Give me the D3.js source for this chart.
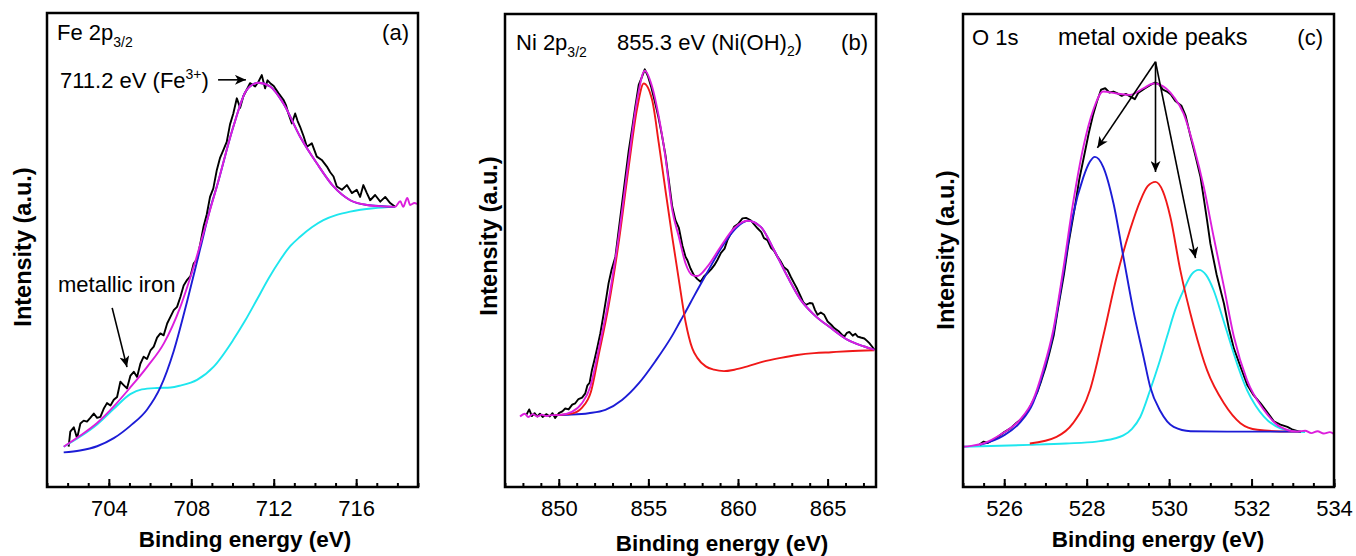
<!DOCTYPE html>
<html>
<head>
<meta charset="utf-8">
<script src="https://d3js.org/d3.v7.min.js"></script>
<style>
  body { margin: 0; background: #fff; }
  svg { display: block; font-family: Arial, "Liberation Sans", sans-serif; }
  .tick text { font-size: 22px; fill: #000; }
  .tick line { stroke: #000; stroke-width: 2; }
  .axis-title { font-size: 22.5px; font-weight: bold; fill: #000; }
  .y-title { font-size: 23.5px; }
  .title { font-size: 22px; fill: #000; }
  .note { font-size: 22px; fill: #000; }
  .curve { fill: none; stroke-width: 1.9; stroke-linejoin: round; }
</style>
</head>
<body>
<script>
// ---------- (a) Fe 2p3/2 : [binding energy eV, intensity a.u.] ----------
var feRaw = [[702.05,8.5],[702.13,11.7],[702.3,12.6],[702.46,10.3],[702.62,13.4],[702.78,14.0],[702.94,13.8],[703.1,14.6],
  [703.27,15.5],[703.43,14.6],[703.59,14.8],[703.75,16.5],[703.91,17.7],[704.08,17.2],[704.24,18.4],[704.4,19.0],
  [704.56,22.2],[704.72,21.5],[704.88,20.8],[705.05,23.5],[705.21,24.3],[705.37,23.2],[705.53,26.0],[705.69,27.5],
  [705.85,27.0],[706.02,28.8],[706.18,29.6],[706.34,31.5],[706.5,32.4],[706.66,32.0],[706.83,34.5],[707.0,36.0],
  [707.15,37.3],[707.31,38.0],[707.47,40.1],[707.63,42.5],[707.8,43.7],[707.96,44.5],[708.12,47.2],[708.28,48.0],
  [708.44,51.4],[708.6,55.0],[708.75,57.5],[708.91,61.2],[709.07,63.0],[709.24,66.9],[709.4,69.5],[709.56,71.1],
  [709.72,72.8],[709.88,76.5],[710.04,78.8],[710.21,82.0],[710.37,80.0],[710.53,82.5],[710.69,83.8],[710.85,85.2],
  [711.1,84.5],[711.26,85.5],[711.42,86.9],[711.58,84.1],[711.7,85.8],[711.83,85.2],[712.0,84.6],[712.23,83.1],
  [712.47,81.7],[712.6,80.5],[712.71,78.8],[712.88,76.7],[713.04,78.8],[713.16,77.2],[713.28,76.0],[713.45,74.0],
  [713.61,71.8],[713.85,72.5],[714.09,69.7],[714.33,69.0],[714.58,67.6],[714.74,66.4],[714.9,65.5],[715.06,63.4],
  [715.31,62.7],[715.55,63.7],[715.79,62.0],[716.03,62.7],[716.19,61.2],[716.35,63.7],[716.52,62.0],[716.68,60.5],
  [716.92,61.6],[717.17,60.2],[717.41,61.2],[717.65,59.9],[717.89,59.1]];
var feFit = [[701.81,8.5],[702.6,10.8],[703.43,13.5],[704.24,17.0],[705.04,21.0],[705.85,25.3],[706.67,30.3],
  [707.47,38.0],[708.12,46.5],[708.77,56.3],[709.24,63.4],[710.04,76.0],[710.69,83.8],[711.26,85.3],[711.83,84.5],
  [712.47,80.9],[713.28,73.9],[714.09,68.3],[714.9,63.4],[715.71,60.5],[716.52,59.5],[717.2,59.2],[717.89,59.1],
  [718.14,60.3],[718.28,59.1],[718.48,61.0],[718.62,59.5],[718.82,59.9],[718.96,59.7]];
var feOxide = [[701.81,7.3],[702.6,7.7],[703.43,8.6],[704.24,10.3],[705.04,12.9],[705.85,16.3],[706.5,21.0],
  [707.15,28.7],[707.8,39.2],[708.44,50.4],[708.93,58.9],[709.24,63.4],[710.04,76.0],[710.69,83.8],[711.26,85.3],
  [711.83,84.5],[712.47,80.9],[713.28,73.9],[714.09,68.3],[714.9,63.4],[715.71,60.5],[716.52,59.5],[717.89,59.1]];
var feBackground = [[701.81,8.5],[702.6,10.6],[703.43,13.2],[704.24,16.5],[705.04,19.6],[705.6,20.6],[706.34,20.9],
  [707.0,21.0],[707.47,21.4],[708.28,22.6],[709.09,25.4],[710.03,31.0],[710.6,35.0],[711.18,39.5],[711.75,44.0],
  [712.31,47.9],[712.8,50.8],[713.28,52.8],[713.85,54.8],[714.41,56.3],[715.06,57.4],[715.71,58.1],[716.84,58.8],
  [717.89,59.1]];
var feTicks = [704, 708, 712, 716];

// ---------- (b) Ni 2p3/2 ----------
var niRaw = [[848.2,15.3],[848.35,16.4],[848.5,15.0],[848.65,15.6],[848.8,14.9],[848.95,15.5],[849.1,14.8],[849.3,15.4],
  [849.5,14.9],[849.65,15.6],[849.8,14.6],[850.0,15.6],[850.2,16.0],[850.36,16.6],[850.55,16.4],[850.75,17.4],
  [850.92,17.7],[851.1,18.6],[851.3,18.9],[851.48,19.8],[851.6,21.5],[851.72,22.0],[851.85,24.7],[852.0,27.0],
  [852.15,29.5],[852.32,32.5],[852.5,36.5],[852.65,40.0],[852.78,43.1],[852.95,46.0],[853.16,48.7],[853.3,53.0],
  [853.5,59.0],[853.72,65.6],[853.9,71.0],[854.1,76.0],[854.27,80.4],[854.46,85.0],[854.62,86.5],[854.8,88.3],
  [854.98,86.8],[855.17,84.4],[855.36,81.5],[855.56,78.2],[855.75,74.5],[855.95,70.2],[856.15,64.5],[856.33,59.3],
  [856.51,56.4],[856.7,54.8],[856.9,51.0],[857.07,48.7],[857.17,48.0],[857.35,46.2],[857.54,44.8],[857.72,44.0],
  [857.91,43.4],[858.1,44.5],[858.29,45.2],[858.5,46.0],[858.68,46.9],[858.85,48.0],[859.05,49.5],[859.25,50.4],
  [859.41,52.2],[859.6,53.6],[859.78,55.0],[860.0,55.6],[860.25,56.8],[860.45,56.9],[860.71,56.4],[860.9,55.5],
  [861.09,54.7],[861.3,53.9],[861.45,52.6],[861.64,52.2],[861.85,50.5],[862.0,50.0],[862.2,48.7],[862.4,47.6],
  [862.55,46.5],[862.76,45.9],[862.95,44.4],[863.13,43.1],[863.3,41.9],[863.51,40.2],[863.65,39.0],[863.79,38.5],
  [864.0,38.9],[864.16,38.8],[864.3,37.4],[864.44,36.4],[864.62,36.9],[864.81,36.4],[865.0,35.0],[865.2,34.3],
  [865.37,33.6],[865.6,33.0],[865.8,32.2],[865.93,31.8],[866.08,32.6],[866.21,32.8],[866.4,32.0],[866.55,32.4],
  [866.68,31.8],[866.85,31.6],[867.05,31.4],[867.2,30.9],[867.33,30.4],[867.5,29.6],[867.61,29.0]];
var niFit = [[847.84,14.9],[848.1,15.5],[848.3,14.8],[848.55,15.4],[848.8,14.9],[849.05,15.3],[849.3,15.0],[849.6,15.2],
  [849.98,15.2],[850.73,15.9],[851.29,17.7],[851.76,21.2],[852.22,29.0],[852.78,39.5],[853.34,52.9],[853.9,69.1],
  [854.37,81.8],[854.8,88.0],[855.21,84.6],[855.58,78.3],[855.95,69.8],[856.33,58.6],[856.7,52.9],[857.07,47.3],
  [857.45,44.8],[857.73,44.6],[858.29,46.6],[859.03,50.8],[859.78,54.7],[860.53,56.3],[861.27,55.0],[862.01,50.1],
  [862.76,44.5],[863.51,39.5],[864.25,36.4],[865.19,33.6],[866.12,31.1],[867.05,29.7],[867.61,29.0]];
var niMain = [[849.8,15.2],[850.7,15.5],[851.3,16.8],[851.8,20.2],[852.22,27.8],[852.78,38.3],[853.34,51.6],
  [853.9,67.6],[854.37,80.0],[854.74,85.3],[855.21,81.8],[855.58,72.7],[855.95,62.8],[856.33,52.9],[856.7,43.8],
  [857.07,35.0],[857.45,29.3],[857.73,27.3],[858.2,25.5],[858.66,24.8],[859.22,24.5],[859.8,24.8],[860.53,25.5],
  [861.4,26.5],[862.39,27.3],[863.3,27.9],[864.25,28.3],[865.2,28.5],[866.12,28.7],[867.61,28.9]];
var niSatellite = [[849.8,15.2],[850.7,15.3],[851.66,15.6],[852.6,16.3],[853.53,18.4],[854.46,21.9],[855.39,26.6],
  [856.33,32.0],[856.8,35.2],[857.07,37.0],[857.54,40.3],[858.29,45.4],[859.03,50.3],[859.59,53.4],[860.15,55.6],
  [860.53,56.3],[861.27,55.0],[862.01,50.1],[862.76,44.5],[863.51,39.5],[864.25,36.4],[865.19,33.6],[866.12,31.1],
  [867.05,29.7],[867.61,29.0]];
var niTicks = [850, 855, 860, 865];

// ---------- (c) O 1s ----------
var oRaw = [[525.4,9.0],[525.5,9.6],[525.6,9.3],[525.8,10.3],[526.0,11.6],[526.15,12.4],[526.3,13.6],[526.45,14.6],
  [526.6,16.5],[526.7,18.2],[526.8,20.0],[526.9,22.5],[527.0,25.2],[527.1,28.5],[527.2,32.0],[527.3,37.5],
  [527.45,45.0],[527.55,51.0],[527.7,58.5],[527.82,65.0],[527.95,70.5],[528.05,74.8],[528.15,78.5],[528.25,81.5],
  [528.35,84.0],[528.45,84.3],[528.55,83.4],[528.65,83.6],[528.75,83.2],[528.85,82.7],[528.95,83.1],[529.05,82.6],
  [529.17,82.0],[529.25,83.3],[529.4,84.2],[529.55,85.0],[529.65,85.5],[529.75,85.2],[529.85,84.0],[529.95,83.6],
  [530.05,82.9],[530.15,81.6],[530.3,80.6],[530.4,78.5],[530.52,74.1],[530.64,70.0],[530.76,65.6],[530.85,60.5],
  [530.92,56.4],[531.0,51.5],[531.15,45.0],[531.33,38.8],[531.45,33.5],[531.57,29.3],[531.75,25.0],[531.9,21.5],
  [532.05,19.4],[532.22,17.7],[532.4,15.6],[532.54,13.9],[532.7,13.2],[532.87,12.7],[533.0,12.1],[533.2,11.6]];
var oFit = [[525.0,8.5],[525.2,8.7],[525.49,9.2],[525.97,11.4],[526.38,14.2],[526.7,18.4],[526.94,24.7],[527.19,33.2],
  [527.43,45.9],[527.67,60.0],[527.92,71.9],[528.16,79.7],[528.4,83.6],[528.73,83.2],[529.05,82.9],[529.38,84.3],
  [529.62,85.3],[529.79,85.0],[530.11,82.5],[530.35,79.0],[530.6,71.9],[530.84,63.5],[531.08,52.9],[531.33,42.3],
  [531.57,31.8],[531.89,22.6],[532.3,16.3],[532.7,12.7],[533.11,11.7],[533.3,11.9],[533.45,11.4],[533.6,11.8],
  [533.75,11.3],[533.9,11.6],[534.0,11.2]];
var oPeak1 = [[525.41,8.9],[525.97,10.8],[526.38,13.6],[526.7,17.8],[526.94,24.0],[527.19,32.5],[527.43,45.0],
  [527.67,57.5],[527.92,65.5],[528.08,68.8],[528.2,69.8],[528.4,67.7],[528.65,60.0],[528.89,48.7],[529.13,37.4],
  [529.38,27.5],[529.54,21.2],[529.79,16.0],[530.11,12.7],[530.52,11.8],[531.73,11.7],[532.95,11.7],[533.2,11.7]];
var oPeak2 = [[526.62,9.2],[527.27,10.6],[527.67,13.5],[528.08,20.5],[528.4,31.8],[528.73,44.5],[529.05,54.3],
  [529.3,60.5],[529.48,63.6],[529.67,64.5],[529.85,62.5],[530.03,57.1],[530.27,45.9],[530.6,33.9],[530.92,24.7],
  [531.33,17.7],[531.73,13.5],[532.14,12.1],[532.95,11.7],[533.2,11.7]];
var oPeak3 = [[525.0,8.5],[526.62,8.9],[527.5,9.2],[528.24,9.6],[528.65,10.2],[528.89,10.9],[529.1,12.3],[529.3,14.8],
  [529.54,20.5],[529.75,26.0],[529.95,31.8],[530.15,37.5],[530.35,41.6],[530.55,45.0],[530.72,45.9],[530.9,44.8],
  [531.08,41.6],[531.29,36.0],[531.49,30.4],[531.69,25.0],[531.89,20.5],[532.1,17.2],[532.3,14.9],[532.7,12.4],
  [533.11,11.7],[533.3,11.6]];
var oTicks = [526, 528, 530, 532, 534];

var color = { raw: "#000000", fit: "#dc1edc", blue: "#1c1cd6", red: "#f01818", cyan: "#1ee6ee" };

var svg = d3.select("body").append("svg")
    .attr("width", 1356)
    .attr("height", 556);

svg.append("defs").append("marker")
    .attr("id", "arrow")
    .attr("markerUnits", "userSpaceOnUse")
    .attr("markerWidth", 12).attr("markerHeight", 10)
    .attr("refX", 11).attr("refY", 5)
    .attr("orient", "auto")
  .append("path")
    .attr("d", "M0,0 L11,5 L0,10 L3,5 Z")
    .attr("fill", "#000");

function panel(p) {
  var x = d3.scaleLinear().domain(p.domain).range([p.left, p.right]);
  var y = d3.scaleLinear().domain([0, 100]).range([p.bottom, p.top]);
  var g = svg.append("g");

  var smooth = d3.line().x(function(d) { return x(d[0]); }).y(function(d) { return y(d[1]); })
      .curve(d3.curveMonotoneX);
  var jagged = d3.line().x(function(d) { return x(d[0]); }).y(function(d) { return y(d[1]); });

  p.series.forEach(function(s) {
    g.append("path")
      .attr("class", "curve")
      .attr("stroke", s.color)
      .attr("d", (s.raw ? jagged : smooth)(s.data));
  });

  // minor + major ticks pointing inwards
  var minor = d3.range(Math.ceil(p.domain[0] / p.minorStep) * p.minorStep, p.domain[1] + 1e-6, p.minorStep);
  var axisG = g.append("g").attr("transform", "translate(0," + p.bottom + ")");
  axisG.append("g")
      .call(d3.axisBottom(x).tickValues(minor).tickSize(-4).tickFormat(""))
      .select(".domain").remove();
  axisG.append("g")
      .call(d3.axisBottom(x).tickValues(p.ticks).tickSize(-8).tickPadding(13).tickFormat(d3.format("d")))
      .select(".domain").remove();

  g.append("rect")
      .attr("x", p.left).attr("y", p.top)
      .attr("width", p.right - p.left).attr("height", p.bottom - p.top)
      .attr("fill", "none").attr("stroke", "#000").attr("stroke-width", 2.5);

  g.append("text")
      .attr("class", "axis-title")
      .attr("text-anchor", "middle")
      .attr("x", p.xTitle[0]).attr("y", p.xTitle[1])
      .text("Binding energy (eV)");

  g.append("text")
      .attr("class", "axis-title y-title")
      .attr("text-anchor", "middle")
      .attr("transform", "translate(" + p.yTitle[0] + "," + p.yTitle[1] + ") rotate(-90)")
      .text("Intensity (a.u.)");

  p.arrows.forEach(function(a) {
    g.append("line")
      .attr("x1", x(a[0][0])).attr("y1", y(a[0][1]))
      .attr("x2", x(a[1][0])).attr("y2", y(a[1][1]))
      .attr("stroke", "#000").attr("stroke-width", 1.6)
      .attr("marker-end", "url(#arrow)");
  });

  return g;
}

// (a)
var ga = panel({
  left: 47, right: 418, top: 13, bottom: 487, domain: [701, 719], ticks: feTicks, minorStep: 1,
  xTitle: [245, 547], yTitle: [31, 247],
  series: [
    { data: feRaw, color: color.raw, raw: true },
    { data: feBackground, color: color.cyan },
    { data: feOxide, color: color.blue },
    { data: feFit, color: color.fit }
  ],
  arrows: [ [[709.3, 85.9], [710.65, 85.9]], [[704.16, 37.8], [704.88, 25.3]] ]
});
var t = ga.append("text").attr("class", "title").attr("x", 57).attr("y", 40);
t.append("tspan").text("Fe 2p");
t.append("tspan").attr("dy", 7).style("font-size", "14px").text("3/2");
ga.append("text").attr("class", "note").attr("x", 409).attr("y", 40).attr("text-anchor", "end").text("(a)");
t = ga.append("text").attr("class", "note").attr("x", 60).attr("y", 88);
t.append("tspan").text("711.2 eV (Fe");
t.append("tspan").attr("dy", -9).style("font-size", "14px").text("3+");
t.append("tspan").attr("dy", 9).text(")");
ga.append("text").attr("class", "note").attr("x", 58).attr("y", 292).text("metallic iron");

// (b)
var gb = panel({
  left: 505, right: 876, top: 14, bottom: 487, domain: [847, 867.7], ticks: niTicks, minorStep: 1,
  xTitle: [722, 551], yTitle: [497, 236],
  series: [
    { data: niRaw, color: color.raw, raw: true },
    { data: niSatellite, color: color.blue },
    { data: niMain, color: color.red },
    { data: niFit, color: color.fit }
  ],
  arrows: []
});
t = gb.append("text").attr("class", "title").attr("x", 516).attr("y", 50);
t.append("tspan").text("Ni 2p");
t.append("tspan").attr("dy", 7).style("font-size", "14px").text("3/2");
t = gb.append("text").attr("class", "note").attr("x", 617).attr("y", 50);
t.append("tspan").text("855.3 eV (Ni(OH)");
t.append("tspan").attr("dy", 6).style("font-size", "14px").text("2");
t.append("tspan").attr("dy", -6).text(")");
gb.append("text").attr("class", "note").attr("x", 868).attr("y", 50).attr("text-anchor", "end").text("(b)");

// (c)
var gc = panel({
  left: 963, right: 1334, top: 14, bottom: 487, domain: [525, 534], ticks: oTicks, minorStep: 0.5,
  xTitle: [1158, 547], yTitle: [954, 250],
  series: [
    { data: oRaw, color: color.raw, raw: true },
    { data: oPeak3, color: color.cyan },
    { data: oPeak2, color: color.red },
    { data: oPeak1, color: color.blue },
    { data: oFit, color: color.fit }
  ],
  arrows: [ [[529.67, 89.9], [528.26, 71.7]], [[529.67, 89.9], [529.67, 66.6]], [[529.67, 89.9], [530.64, 48.4]] ]
});
gc.append("text").attr("class", "title").attr("x", 972).attr("y", 45).text("O 1s");
gc.append("text").attr("class", "note").attr("x", 1058).attr("y", 45).style("font-size", "23.5px").text("metal oxide peaks");
gc.append("text").attr("class", "note").attr("x", 1323).attr("y", 45).attr("text-anchor", "end").text("(c)");
</script>
</body>
</html>
